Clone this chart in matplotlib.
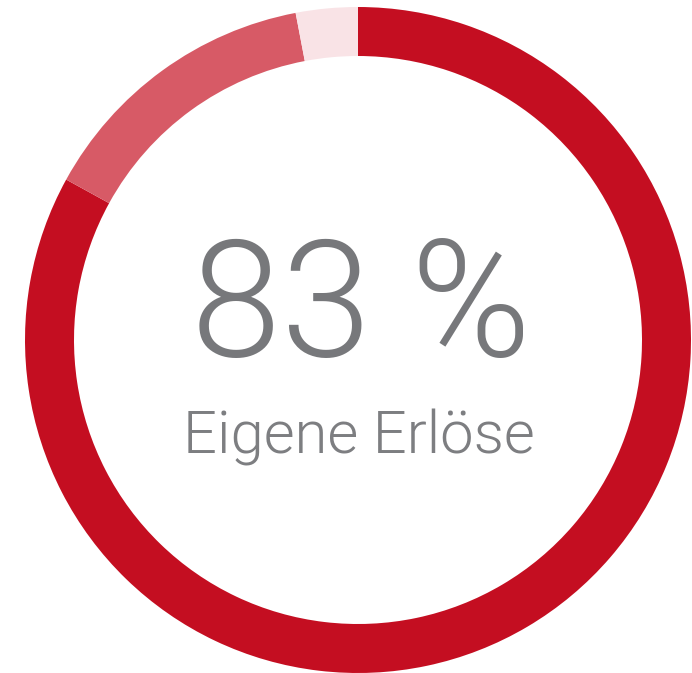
import matplotlib
matplotlib.use('Agg')
import matplotlib.pyplot as plt

# Anteile (Prozent) im Uhrzeigersinn ab 12 Uhr
labels = ['Eigene Erlöse', 'Zuschüsse', 'Sonstige']
values = [83, 14, 3]
colors = ['#C40E21', '#D75A66', '#F9E3E6']

headline = '83 %'
subline = 'Eigene Erlöse'

W, H = 692, 673
fig = plt.figure(figsize=(W / 100, H / 100), dpi=100)
ax = fig.add_axes([0, 0, 1, 1])

ax.pie(values, colors=colors, startangle=90, counterclock=False,
       radius=333, center=(358, 333),
       wedgeprops=dict(width=49, linewidth=0))

ax.set_xlim(0, W)
ax.set_ylim(0, H)
ax.set_aspect('equal')
ax.axis('off')

ax.text(361, 362, headline, ha='center', va='center', fontsize=117,
        family='Roboto', fontweight=300, color='#77787B')
ax.text(359, 236, subline, ha='center', va='center', fontsize=43,
        family='Roboto', fontweight=300, color='#7D7E81')

fig.savefig('out.png', dpi=100, facecolor='white')
